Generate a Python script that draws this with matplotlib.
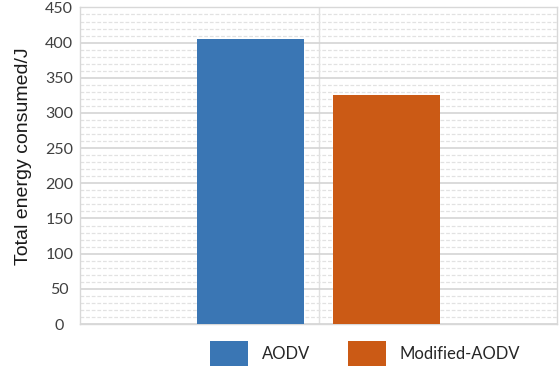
import matplotlib
matplotlib.use("Agg")
import matplotlib.pyplot as plt
from matplotlib.ticker import MultipleLocator
from matplotlib.patches import Patch

series = ["AODV", "Modified-AODV"]
energy = [405, 325]
colors = ["#3A76B4", "#CB5A15"]
y_ticks = [0, 50, 100, 150, 200, 250, 300, 350, 400, 450]

fig = plt.figure(figsize=(5.6, 3.72), dpi=100)
ax = fig.add_axes([0.143, 0.129, 0.852, 0.851])

offsets = [-0.1426, 0.1426]
width = 0.224
for off, val, col in zip(offsets, energy, colors):
    ax.bar(off, val, width=width, color=col, zorder=3)

ax.set_xlim(-0.5, 0.5)
ax.set_ylim(0, 450)
ax.set_yticks(y_ticks)
ax.yaxis.set_minor_locator(MultipleLocator(10))
ax.set_xticks([0])
ax.set_xticklabels([])
ax.tick_params(axis="both", which="both", length=0)
ax.tick_params(axis="y", labelsize=11.5, colors="#404040", pad=15)
for lbl in ax.get_yticklabels():
    lbl.set_family("Lato")
    lbl.set_horizontalalignment("center")

ax.grid(axis="y", which="major", color="#D4D4D4", linewidth=1.2, zorder=0)
ax.grid(axis="y", which="minor", color="#E2E2E2", linewidth=0.9,
        linestyle=(0, (3, 1.5)), zorder=0)
ax.grid(axis="x", which="major", color="#E0E0E0", linewidth=1.0, zorder=0)

for s in ax.spines.values():
    s.set_color("#D8D8D8")
    s.set_linewidth(1.0)

ax.set_ylabel("Total energy consumed/J", fontsize=14, family="Liberation Sans",
              color="#1A1A1A")
ax.yaxis.set_label_coords(-0.1, 0.531)

handles = [Patch(facecolor=c, edgecolor="none") for c in colors]
fig.legend(handles, series, loc="center", bbox_to_anchor=(0.652, 0.05),
           ncol=2, frameon=False, borderpad=0, handlelength=2.28,
           handleheight=1.86, handletextpad=0.84, columnspacing=2.25,
           prop={"family": "Lato", "size": 12}, labelcolor="#262626")

fig.savefig("out.png", dpi=100)
